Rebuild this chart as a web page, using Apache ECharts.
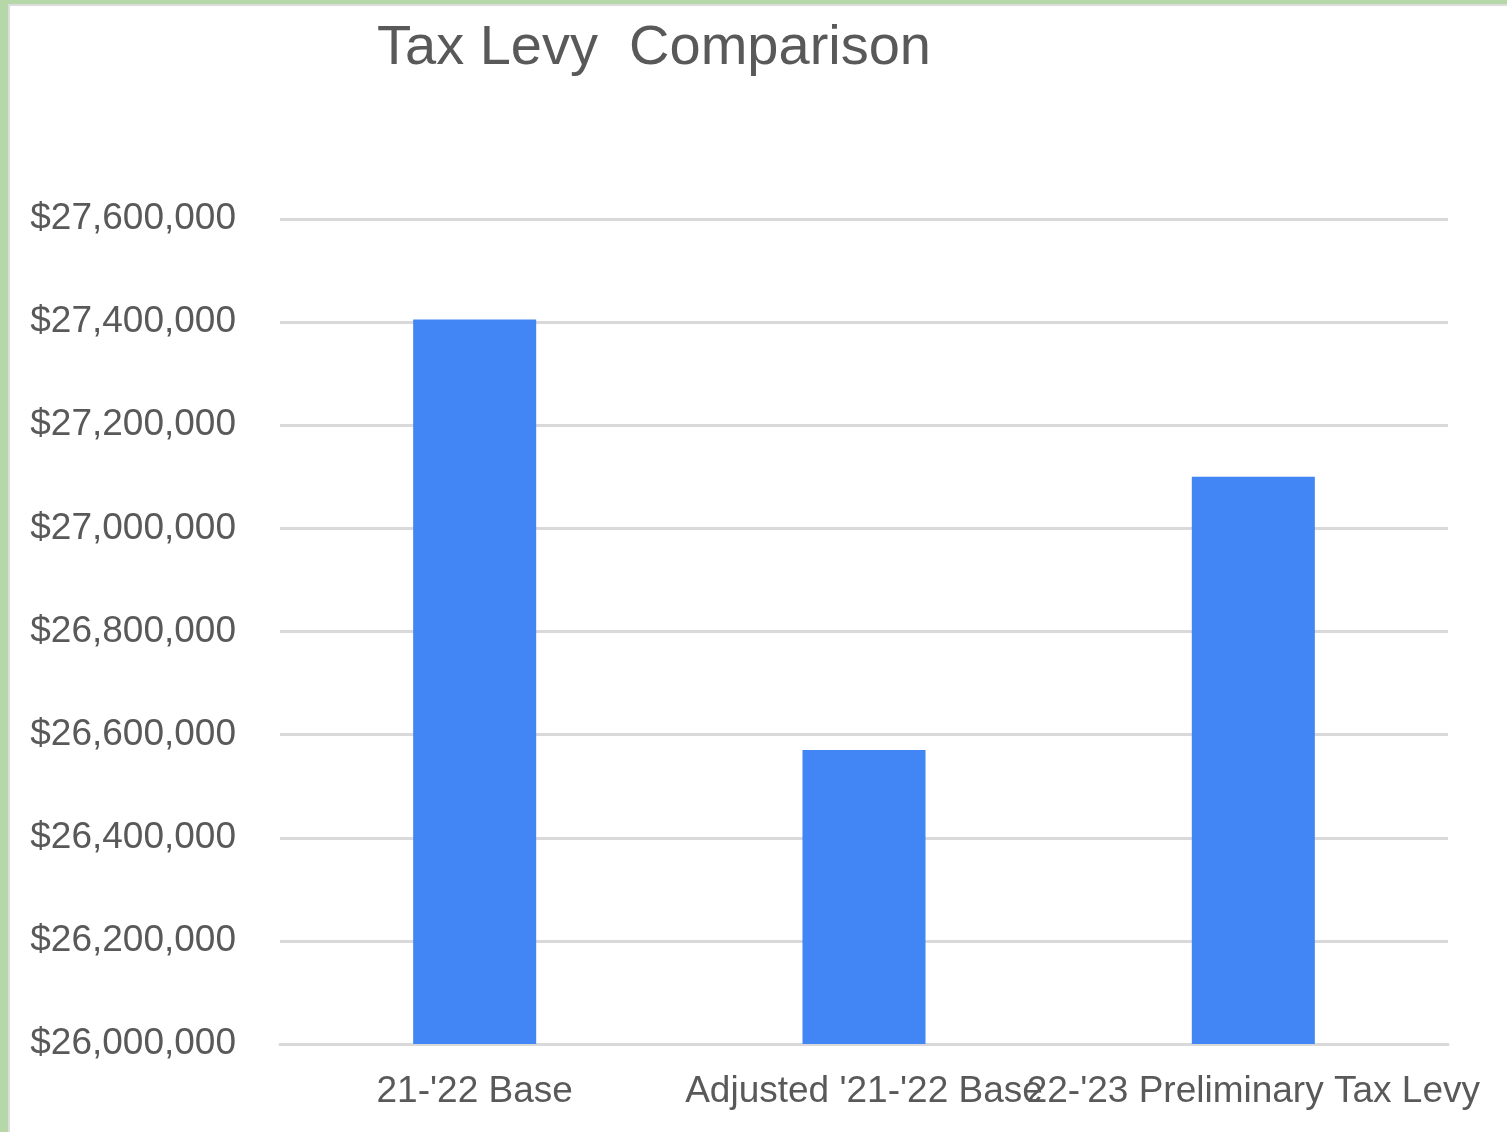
<!DOCTYPE html>
<html><head><meta charset="utf-8">
<script src="https://cdn.jsdelivr.net/npm/echarts@6/dist/echarts.min.js"></script>
<style>
html,body{margin:0;padding:0;width:1507px;height:1132px;overflow:hidden;background:#b6d7a8;}
#frame{position:absolute;left:8px;top:4px;width:1499px;height:1128px;background:#fff;border-left:2px solid #dcdcdc;border-top:2px solid #dcdcdc;box-sizing:border-box;}
#chart{position:absolute;left:10px;top:6px;width:1497px;height:1126px;}
</style></head>
<body><div id="frame"></div><div id="chart"></div>
<script>
const categories = ["21-'22 Base", "Adjusted '21-'22 Base", "22-'23 Preliminary Tax Levy"];
const levyValues = [27405000, 26570000, 27100000];
const yMin = 26000000, yMax = 27600000, yStep = 200000;

const chart = echarts.init(document.getElementById('chart'));
const fmt = v => '$' + v.toLocaleString('en-US');
chart.setOption({
  animation: false,
  backgroundColor: '#fff',
  title: {
    text: 'Tax Levy  Comparison',
    left: 362, top: 10,
    textStyle: {fontFamily: 'Liberation Sans, Arial', fontSize: 56, fontWeight: 'normal', color: '#595959'}
  },
  grid: {left: 270, right: 59, top: 213, bottom: 88, containLabel: false},
  xAxis: {
    type: 'category', data: categories,
    axisLine: {lineStyle: {color: '#d9d9d9', width: 3}},
    axisTick: {show: false},
    axisLabel: {interval: 0, margin: 29, fontFamily: 'Liberation Sans, Arial', fontSize: 37, color: '#595959'}
  },
  yAxis: {
    type: 'value', min: yMin, max: yMax, interval: yStep,
    axisLine: {show: false}, axisTick: {show: false},
    splitLine: {lineStyle: {color: '#d9d9d9', width: 3}},
    axisLabel: {formatter: fmt, margin: 44, padding: [4, 0, 0, 0], fontFamily: 'Liberation Sans, Arial', fontSize: 37, color: '#595959'}
  },
  series: [{
    type: 'bar', data: levyValues, barWidth: '31.6%', barCategoryGap: '0%',
    itemStyle: {color: '#4285f4'}
  }]
});
</script></body></html>
